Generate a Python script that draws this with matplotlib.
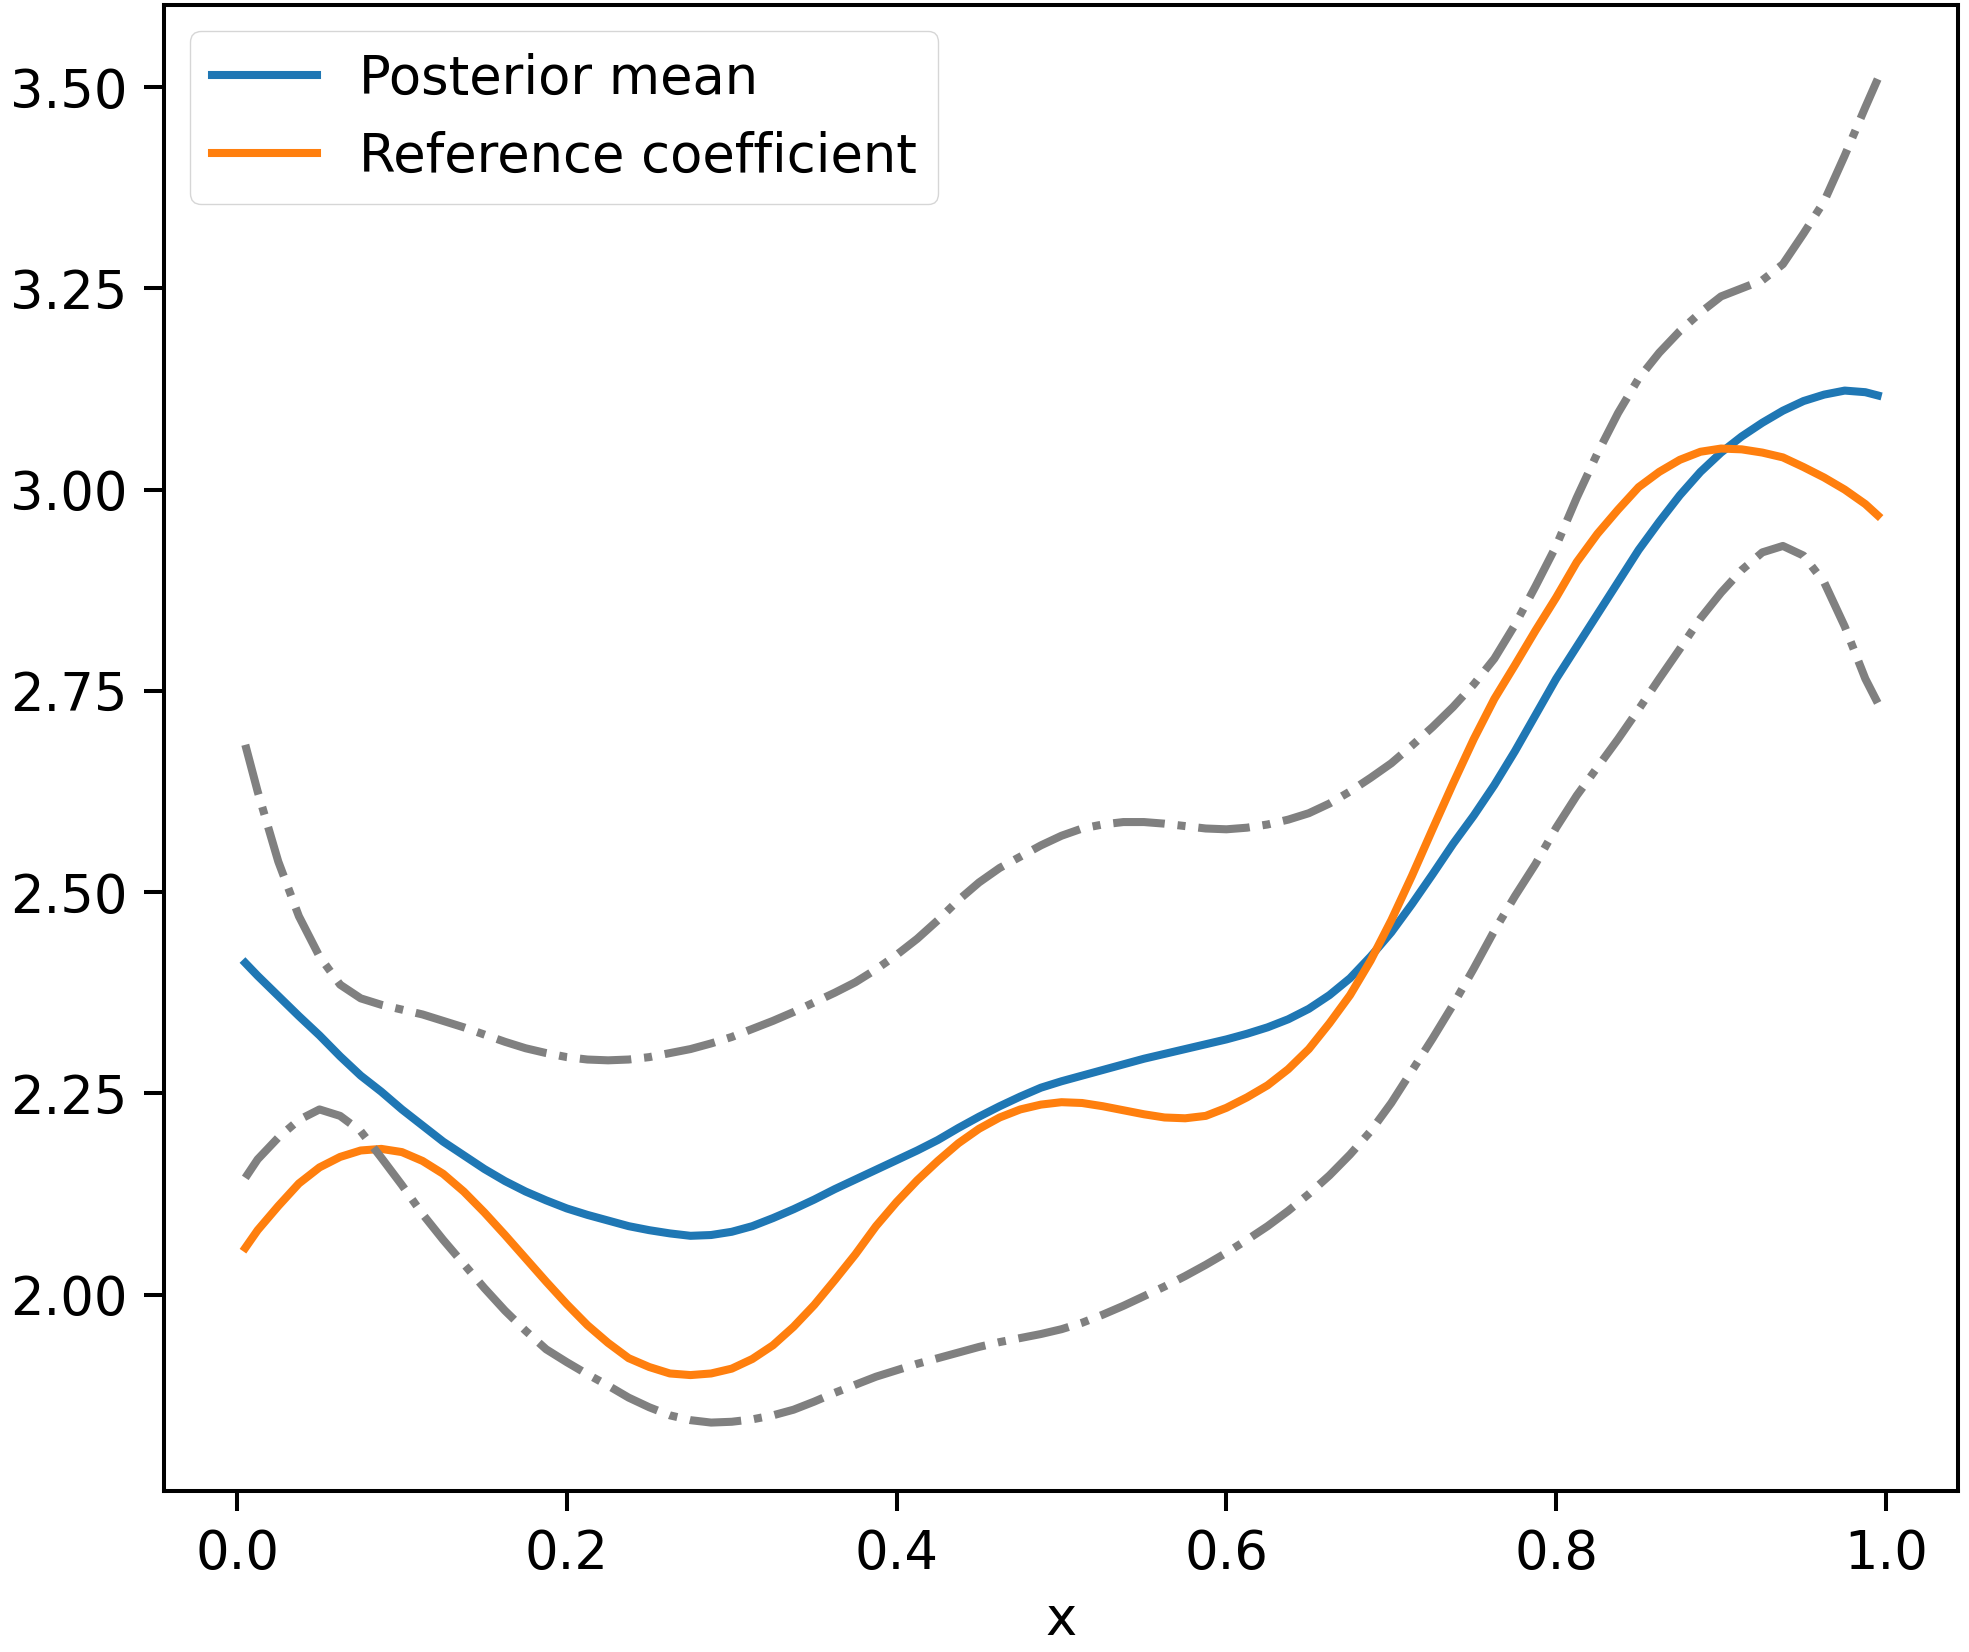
import matplotlib
matplotlib.use("Agg")
import matplotlib.pyplot as plt

x = [0.005, 0.0125, 0.025, 0.0375, 0.05, 0.0625, 0.075, 0.0875, 0.1, 0.1125,
     0.125, 0.1375, 0.15, 0.1625, 0.175, 0.1875, 0.2, 0.2125, 0.225, 0.2375,
     0.25, 0.2625, 0.275, 0.2875, 0.3, 0.3125, 0.325, 0.3375, 0.35, 0.3625,
     0.375, 0.3875, 0.4, 0.4125, 0.425, 0.4375, 0.45, 0.4625, 0.475, 0.4875,
     0.5, 0.5125, 0.525, 0.5375, 0.55, 0.5625, 0.575, 0.5875, 0.6, 0.6125,
     0.625, 0.6375, 0.65, 0.6625, 0.675, 0.6875, 0.7, 0.7125, 0.725, 0.7375,
     0.75, 0.7625, 0.775, 0.7875, 0.8, 0.8125, 0.825, 0.8375, 0.85, 0.8625,
     0.875, 0.8875, 0.9, 0.9125, 0.925, 0.9375, 0.95, 0.9625, 0.975, 0.9875,
     0.995]

posterior_mean = [2.412, 2.396, 2.371, 2.346, 2.322, 2.296, 2.272, 2.252, 2.23, 2.21,
                  2.19, 2.173, 2.156, 2.141, 2.128, 2.117, 2.107, 2.099, 2.092, 2.085,
                  2.08, 2.076, 2.073, 2.074, 2.078, 2.085, 2.095, 2.106, 2.118, 2.131,
                  2.143, 2.155, 2.167, 2.179, 2.192, 2.207, 2.221, 2.234, 2.246, 2.257,
                  2.265, 2.272, 2.279, 2.286, 2.293, 2.299, 2.305, 2.311, 2.317, 2.324,
                  2.332, 2.342, 2.355, 2.372, 2.393, 2.42, 2.45, 2.485, 2.522, 2.56,
                  2.595, 2.633, 2.675, 2.72, 2.765, 2.805, 2.845, 2.885, 2.925, 2.96,
                  2.993, 3.022, 3.046, 3.066, 3.083, 3.098, 3.11, 3.118, 3.123, 3.121,
                  3.117]

reference_coef = [2.058, 2.08, 2.11, 2.138, 2.158, 2.171, 2.179, 2.181, 2.177, 2.166,
                  2.15, 2.128, 2.102, 2.074, 2.045, 2.016, 1.988, 1.962, 1.94, 1.921,
                  1.91, 1.902, 1.90, 1.902, 1.908, 1.92, 1.937, 1.96, 1.987, 2.018,
                  2.05, 2.085, 2.115, 2.142, 2.166, 2.188, 2.206, 2.22, 2.23, 2.236,
                  2.239, 2.238, 2.234, 2.229, 2.224, 2.22, 2.219, 2.222, 2.232, 2.245,
                  2.26, 2.28, 2.305, 2.337, 2.372, 2.415, 2.465, 2.52, 2.578, 2.635,
                  2.69, 2.74, 2.782, 2.825, 2.866, 2.91, 2.945, 2.975, 3.003, 3.022,
                  3.037, 3.047, 3.051, 3.05, 3.046, 3.04, 3.028, 3.015, 3.0, 2.982,
                  2.968]

upper = [2.683, 2.625, 2.538, 2.47, 2.42, 2.385, 2.368, 2.36, 2.354, 2.348,
         2.34, 2.332, 2.323, 2.314, 2.306, 2.3, 2.295, 2.292, 2.291, 2.292,
         2.295, 2.3, 2.305, 2.312, 2.32, 2.33, 2.34, 2.351, 2.363, 2.375,
         2.388, 2.404, 2.422, 2.442, 2.465, 2.49, 2.512, 2.53, 2.544, 2.558,
         2.57, 2.579, 2.584, 2.587, 2.587, 2.585, 2.582, 2.579, 2.578, 2.58,
         2.584, 2.59, 2.598, 2.61, 2.625, 2.642, 2.66, 2.682, 2.705, 2.73,
         2.758, 2.79, 2.832, 2.88, 2.93, 2.99, 3.045, 3.095, 3.138, 3.17,
         3.197, 3.22, 3.24, 3.25, 3.26, 3.28, 3.318, 3.358, 3.415, 3.475,
         3.51]

lower = [2.145, 2.168, 2.195, 2.217, 2.23, 2.222, 2.203, 2.17, 2.136, 2.1,
         2.068, 2.038, 2.008, 1.98, 1.955, 1.932, 1.916, 1.901, 1.887, 1.872,
         1.86, 1.85, 1.844, 1.841, 1.842, 1.845, 1.85, 1.857, 1.867, 1.878,
         1.888, 1.898, 1.906, 1.914, 1.921, 1.928, 1.935, 1.941, 1.946, 1.951,
         1.957, 1.965, 1.975, 1.986, 1.998, 2.01, 2.023, 2.037, 2.052, 2.068,
         2.085, 2.104, 2.125, 2.148, 2.174, 2.203, 2.238, 2.278, 2.318, 2.36,
         2.405, 2.452, 2.495, 2.535, 2.58, 2.62, 2.655, 2.69, 2.727, 2.765,
         2.802, 2.84, 2.872, 2.9, 2.922, 2.93, 2.918, 2.885, 2.83, 2.765,
         2.735]

plt.rcParams['font.size'] = 38
plt.rcParams['xtick.major.size'] = 14.4
plt.rcParams['ytick.major.size'] = 14.4
plt.rcParams['xtick.major.width'] = 2.9
plt.rcParams['ytick.major.width'] = 2.9
plt.rcParams['xtick.major.pad'] = 12
plt.rcParams['ytick.major.pad'] = 12

fig = plt.figure(figsize=(19.69, 16.52), dpi=100)
ax = fig.add_axes([164 / 1969, (1652 - 1491) / 1652, (1958 - 164) / 1969, (1491 - 5) / 1652])

lw = 5.8
ax.plot(x, posterior_mean, color='#1f77b4', lw=lw, label='Posterior mean')
ax.plot(x, reference_coef, color='#ff7f0e', lw=lw, label='Reference coefficient')
ax.plot(x, upper, color='gray', lw=lw, linestyle='-.')
ax.plot(x, lower, color='gray', lw=lw, linestyle='-.')

ax.set_xlim(-0.0443, 1.0437)
ax.set_ylim(1.756, 3.602)
ax.set_yticks([2.00, 2.25, 2.50, 2.75, 3.00, 3.25, 3.50])
ax.set_yticklabels(['2.00', '2.25', '2.50', '2.75', '3.00', '3.25', '3.50'])
ax.set_xlabel('x', labelpad=10)
for s in ax.spines.values():
    s.set_linewidth(2.9)

ax.legend(loc='upper left', framealpha=0.8)

fig.savefig('out.png', dpi=100)
